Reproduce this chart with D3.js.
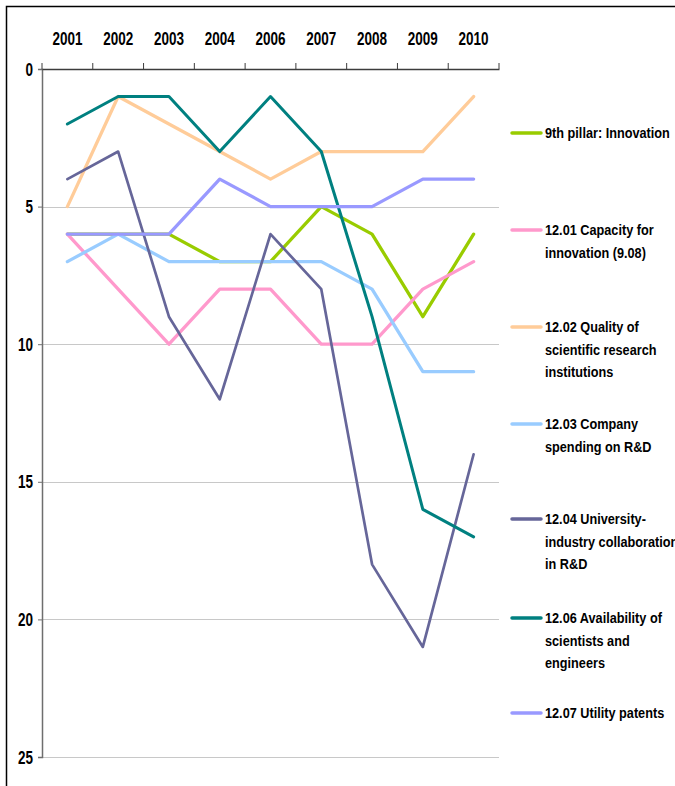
<!DOCTYPE html>
<html>
<head>
<meta charset="utf-8">
<script src="https://cdn.jsdelivr.net/npm/d3@7"></script>
<style>
  body { margin: 0; background: #fff; }
  svg { display: block; }
  text { font-family: "Liberation Sans", Arial, sans-serif; font-weight: bold; fill: #000; }
</style>
</head>
<body>
<svg class="chart"></svg>
<script>
// data (rank, lower is better)
var years = ["2001", "2002", "2003", "2004", "2006", "2007", "2008", "2009", "2010"];
var yTicks = [0, 5, 10, 15, 20, 25];

var pillar      = [6, 6, 6, 7, 7, 5, 6, 9, 6];
var capacity    = [6, 8, 10, 8, 8, 10, 10, 8, 7];
var quality     = [5, 1, 2, 3, 4, 3, 3, 3, 1];
var company     = [7, 6, 7, 7, 7, 7, 8, 11, 11];
var university  = [4, 3, 9, 12, 6, 8, 18, 21, 14];
var scientists  = [2, 1, 1, 3, 1, 3, 9, 16, 17];
var patents     = [6, 6, 6, 4, 5, 5, 5, 4, 4];

var seriesNames = [
  ["9th pillar: Innovation"],
  ["12.01 Capacity for", "innovation (9.08)"],
  ["12.02 Quality of", "scientific research", "institutions"],
  ["12.03 Company", "spending on R&D"],
  ["12.04 University-", "industry collaboration", "in R&D"],
  ["12.06 Availability of", "scientists and", "engineers"],
  ["12.07 Utility patents"]
];
var seriesValues = [pillar, capacity, quality, company, university, scientists, patents];
var colors = ["#99cc00", "#ff99cc", "#ffcc99", "#99ccff", "#666699", "#008080", "#9999ff"];
var widths = [3.3, 3.3, 3.3, 3.3, 2.7, 3.0, 3.3];

var W = 675, H = 786;
var margin = {top: 69, left: 42},
    plotW = 499 - 42,
    plotH = 757 - 69;

var svg = d3.select(".chart").attr("width", W).attr("height", H);

// outer frame (only top and left edges are visible)
svg.append("path")
    .attr("d", "M6.5," + H + "V6.5H" + W)
    .attr("fill", "none").attr("stroke", "#000").attr("stroke-width", 1.5);

var chart = svg.append("g")
    .attr("transform", "translate(" + margin.left + "," + margin.top + ")");

var x = d3.scaleBand().domain(years).range([0, plotW]);
var y = d3.scaleLinear().domain([0, 25]).range([0, plotH]);

// narrow bold text: scale the glyphs horizontally
function narrowText(g, str, px, py, size, sx, anchor) {
  return g.append("text")
      .attr("transform", "translate(" + px + "," + py + ") scale(" + sx + ",1)")
      .attr("font-size", size)
      .attr("text-anchor", anchor || "start")
      .text(str);
}

// gridlines
chart.append("g").selectAll("line")
    .data(yTicks.filter(function(d){ return d > 0; }))
  .enter().append("line")
    .attr("x1", 0).attr("x2", plotW)
    .attr("y1", function(d){ return Math.round(y(d)) + 0.5; })
    .attr("y2", function(d){ return Math.round(y(d)) + 0.5; })
    .attr("stroke", "#c8c8c8").attr("stroke-width", 1);

// y axis
var yAxis = d3.axisLeft(y).tickValues(yTicks).tickSize(4).tickFormat("");
chart.append("g").attr("class", "y axis").call(yAxis)
    .call(function(g){
      g.select(".domain").attr("stroke", "#6e6e6e").attr("stroke-width", 1.5);
      g.selectAll(".tick line").attr("stroke", "#6e6e6e");
    });
yTicks.forEach(function(t){
  narrowText(chart, t, -9, y(t) + 6.5, 18, 0.75, "end");
});

// x axis on top, ticks at category boundaries
var xAxis = d3.axisTop(x).tickSize(0).tickFormat("");
chart.append("g").attr("class", "x axis").call(xAxis)
    .call(function(g){
      g.select(".domain").attr("stroke", "#3c3c3c").attr("stroke-width", 1.5);
    });
var bounds = years.map(function(d){ return x(d); }).concat([plotW]);
chart.append("g").selectAll("line")
    .data(bounds)
  .enter().append("line")
    .attr("x1", function(d){ return d; }).attr("x2", function(d){ return d; })
    .attr("y1", -6).attr("y2", 0)
    .attr("stroke", "#3c3c3c").attr("stroke-width", 1);
years.forEach(function(yr){
  narrowText(chart, yr, x(yr) + x.bandwidth() / 2, -24, 18, 0.75, "middle");
});

// lines
var line = d3.line()
    .x(function(d, i){ return x(years[i]) + x.bandwidth() / 2; })
    .y(function(d){ return y(d); });

chart.append("g").selectAll("path")
    .data(seriesValues)
  .enter().append("path")
    .attr("d", line)
    .attr("fill", "none")
    .attr("stroke", function(d, i){ return colors[i]; })
    .attr("stroke-width", function(d, i){ return widths[i]; })
    .attr("stroke-linejoin", "round")
    .attr("stroke-linecap", "round");

// legend
var legendY = [133, 230, 327, 424, 519, 618, 713];
var legend = svg.append("g");
seriesNames.forEach(function(lines, i){
  legend.append("line")
      .attr("x1", 512).attr("x2", 541)
      .attr("y1", legendY[i]).attr("y2", legendY[i])
      .attr("stroke", colors[i]).attr("stroke-width", 3.5)
      .attr("stroke-linecap", "round");
  lines.forEach(function(s, j){
    narrowText(legend, s, 545, legendY[i] + 5 + j * 22.5, 15.5, 0.82, "start");
  });
});
</script>
</body>
</html>
